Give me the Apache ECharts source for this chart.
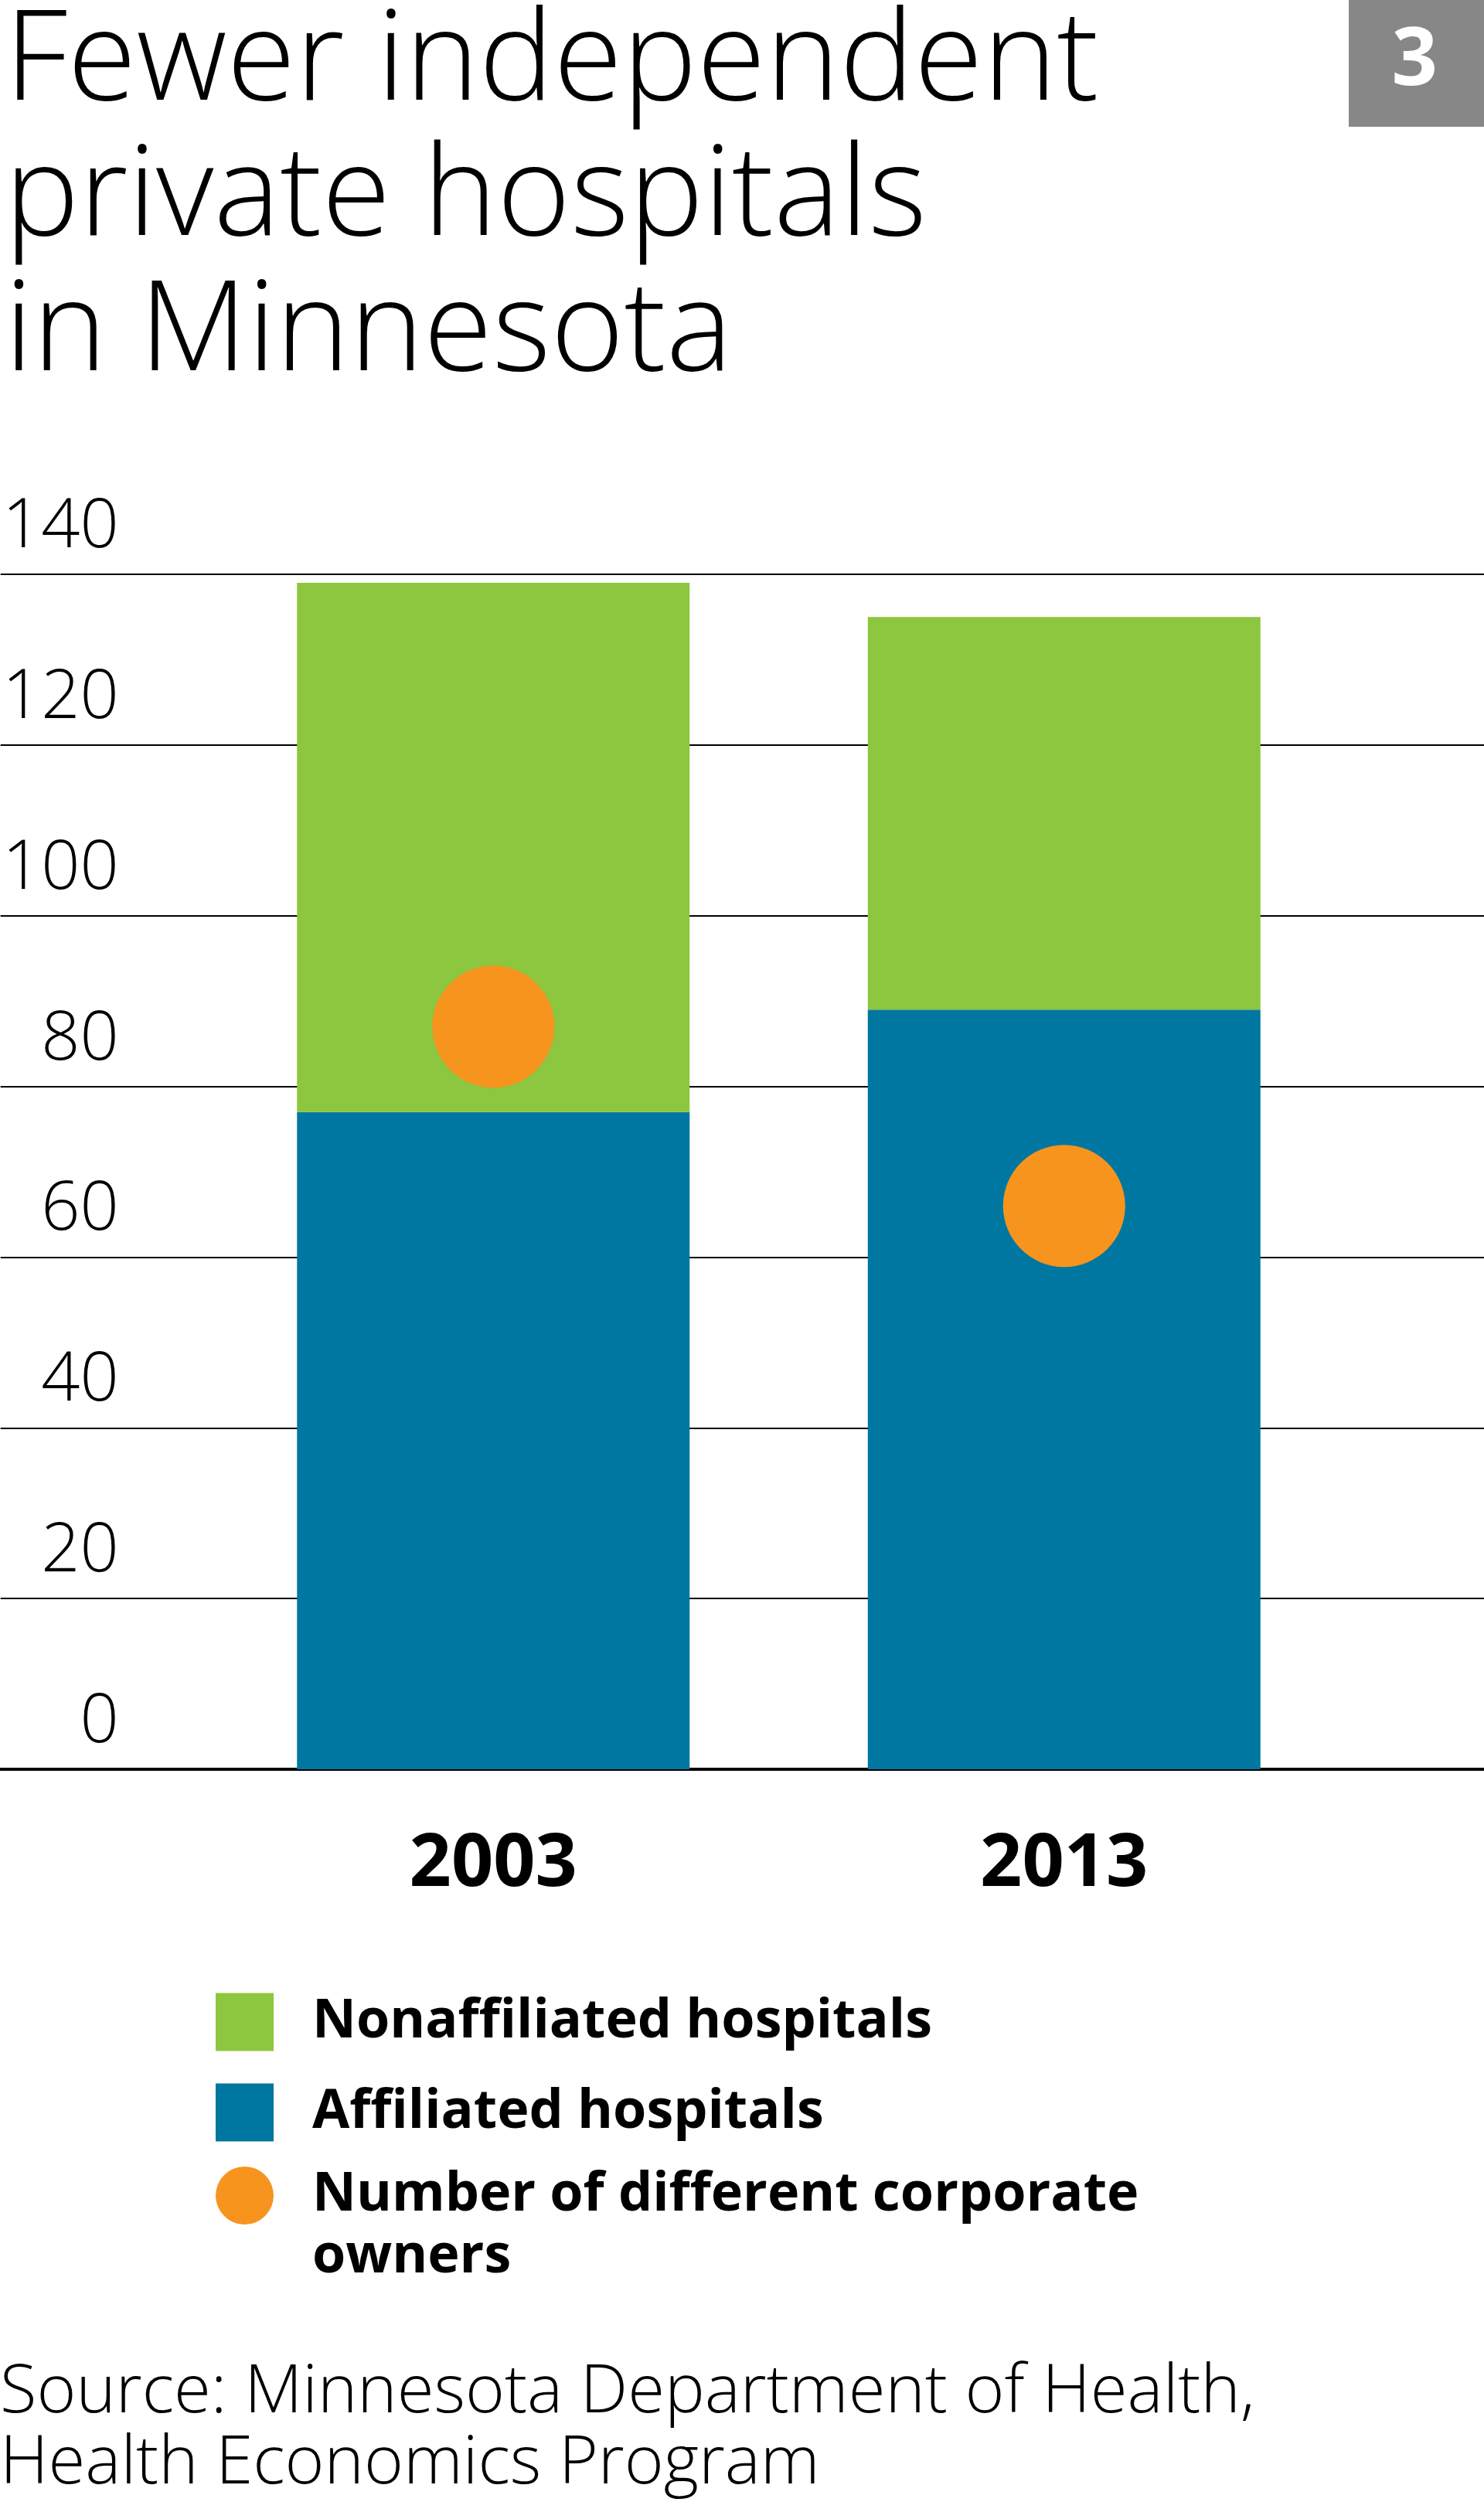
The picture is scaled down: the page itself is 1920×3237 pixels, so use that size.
<!DOCTYPE html>
<html lang="en">
<head>
<meta charset="UTF-8">
<script src="https://cdn.jsdelivr.net/npm/echarts@6/dist/echarts.min.js"></script>
<title>hospitals</title>
<style>
    html, body { margin: 0; padding: 0; background: #fff; }
    #chart { width: 1920px; height: 3237px; }
</style>
</head>
<body>
<div id="chart"></div>
<script>
    const years = ['2003', '2013'];
    const affiliated = [77, 89];
    const nonaffiliated = [62, 46];
    const corporateOwners = [87, 66];
    const yMin = 0, yMax = 140, yStep = 20;
    const legendNames = ['Nonaffiliated hospitals', 'Affiliated hospitals', 'Number of different corporate\nowners'];

    const LIGHT = '"Open Sans", "Noto Sans", sans-serif';
    const BOLD = '"Open Sans", "Noto Sans", sans-serif';
    const GREEN = '#8dc63f', BLUE = '#0077a0', ORANGE = '#f7941e';

    const gridTop = 743, gridBottom = 3237 - 2289;

    // shared legend look
    const legendBase = {
        orient: 'vertical',
        left: 279,
        padding: 0,
        itemWidth: 75,
        itemHeight: 75,
        itemGap: 37,
        selectedMode: false,
        textStyle: {
            fontFamily: BOLD,
            fontWeight: 'bold',
            fontSize: 70,
            lineHeight: 80,
            color: '#000',
            padding: [0, 0, 0, 45]
        }
    };

    let chart = echarts.init(document.getElementById('chart'));
    chart.setOption({
        backgroundColor: '#fff',
        animation: false,
        title: [{
            text: 'Fewer independent\nprivate hospitals\nin Minnesota',
            left: 6,
            top: -5,
            padding: 0,
            textStyle: {
                fontFamily: LIGHT,
                fontWeight: 300,
                fontSize: 162,
                lineHeight: 175,
                color: '#000'
            }
        }, {
            text: 'Source: Minnesota Department of Health,\nHealth Economics Program',
            left: 0,
            top: 3050,
            padding: 0,
            textStyle: {
                fontFamily: LIGHT,
                fontWeight: 300,
                fontSize: 87,
                lineHeight: 92,
                color: '#000'
            }
        }],
        graphic: [{
            type: 'rect',
            right: 0,
            top: 0,
            shape: { width: 175, height: 164 },
            style: { fill: '#878787' }
        }, {
            type: 'text',
            right: 60,
            top: 28,
            style: {
                text: '3',
                fill: '#fff',
                font: 'bold 104px ' + BOLD
            }
        }],
        legend: [
            Object.assign({}, legendBase, {
                top: 2576,
                data: [
                    { name: legendNames[0], icon: 'rect' },
                    { name: legendNames[1], icon: 'rect' }
                ]
            }),
            Object.assign({}, legendBase, {
                top: 2803 - 82.5,
                // blank first line so the icon sits beside the first text line
                formatter: function (name) { return '\n' + name; },
                data: [
                    { name: legendNames[2], icon: 'circle' }
                ]
            })
        ],
        grid: [
            { left: 269, width: 1477, top: gridTop, bottom: gridBottom },
            { left: 0, right: 0, top: gridTop, bottom: gridBottom }
        ],
        xAxis: [{
            type: 'category',
            gridIndex: 0,
            data: years,
            axisLine: { show: false },
            axisTick: { show: false },
            axisLabel: {
                margin: 76,
                fontFamily: BOLD,
                fontWeight: 'bold',
                fontSize: 95,
                color: '#000'
            }
        }, {
            type: 'value',
            gridIndex: 1,
            min: 0,
            max: 1,
            axisLine: { show: true, lineStyle: { color: '#000', width: 4 } },
            axisTick: { show: false },
            axisLabel: { show: false },
            splitLine: { show: false }
        }],
        yAxis: [{
            type: 'value',
            gridIndex: 0,
            min: yMin,
            max: yMax,
            interval: yStep,
            show: false
        }, {
            type: 'value',
            gridIndex: 1,
            min: yMin,
            max: yMax,
            interval: yStep,
            axisLine: { show: false },
            axisTick: { show: false },
            splitLine: { lineStyle: { color: '#000', width: 2 } },
            axisLabel: {
                inside: true,
                align: 'right',
                verticalAlign: 'bottom',
                showMinLabel: true,
                showMaxLabel: true,
                margin: 153,
                fontFamily: LIGHT,
                fontWeight: 300,
                fontSize: 88,
                lineHeight: 120,
                color: '#000'
            }
        }],
        series: [{
            name: legendNames[1],
            type: 'bar',
            stack: 'total',
            xAxisIndex: 0,
            yAxisIndex: 0,
            barWidth: 508,
            itemStyle: { color: BLUE },
            data: affiliated
        }, {
            name: legendNames[0],
            type: 'bar',
            stack: 'total',
            xAxisIndex: 0,
            yAxisIndex: 0,
            barWidth: 508,
            itemStyle: { color: GREEN },
            data: nonaffiliated
        }, {
            name: legendNames[2],
            type: 'scatter',
            xAxisIndex: 0,
            yAxisIndex: 0,
            symbolSize: 158,
            itemStyle: { color: ORANGE, opacity: 1 },
            data: corporateOwners,
            z: 5
        }]
    });
</script>
</body>
</html>
